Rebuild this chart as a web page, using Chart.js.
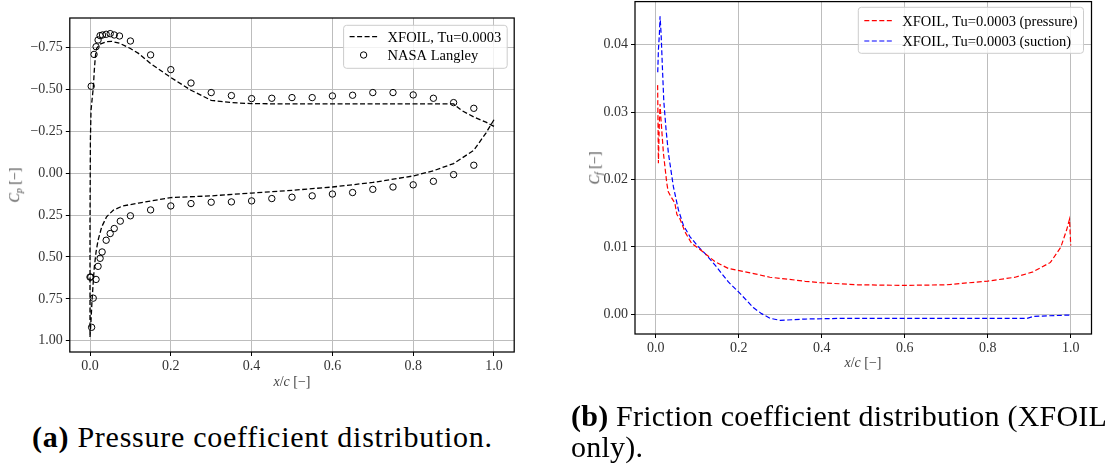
<!DOCTYPE html>
<html>
<head>
<meta charset="utf-8">
<script src="https://cdn.jsdelivr.net/npm/chart.js@4.4.1/dist/chart.umd.min.js"></script>
<style>
  html, body { margin: 0; padding: 0; background: #fff; }
  body { width: 1109px; height: 473px; position: relative; overflow: hidden; font-family: 'Liberation Serif', 'DejaVu Serif', serif; }
  .box { position: absolute; }
  .lab { position: absolute; font-size: 14px; color: #444; white-space: nowrap; transform: translate(-50%, -50%); line-height: 1; }
  .rot { transform: translate(-50%, -50%) rotate(-90deg); }
  .lab sub { font-size: 70%; vertical-align: -0.3em; font-style: italic; }
  .cap { position: absolute; font-size: 30px; color: #000; white-space: nowrap; line-height: 31px; }
</style>
</head>
<body>
<div class="box" style="left:0;top:0;width:530px;height:400px;"><canvas id="cp"></canvas></div>
<div class="box" style="left:560px;top:0;width:549px;height:400px;"><canvas id="cf"></canvas></div>

<div class="lab rot" style="left:16px;top:185px;"><i>C</i><sub>p</sub> [−]</div>
<div class="lab" style="left:292px;top:382px;"><i>x</i>/<i>c</i> [−]</div>
<div class="lab rot" style="left:596px;top:168px;"><i>C</i><sub>f</sub> [−]</div>
<div class="lab" style="left:863px;top:363px;"><i>x</i>/<i>c</i> [−]</div>

<div class="cap" style="left:32px;top:421px;letter-spacing:0.74px;"><b>(a)</b> Pressure coefficient distribution.</div>
<div class="cap" style="left:571px;top:400px;letter-spacing:0.23px;"><b>(b)</b> Friction coefficient distribution (XFOIL<br>only).</div>

<script>
// ---------- data ----------
const xTicks = [0, 0.2, 0.4, 0.6, 0.8, 1.0];
const cpTicks = [-0.75, -0.5, -0.25, 0, 0.25, 0.5, 0.75, 1.0];
const cfTicks = [0, 0.01, 0.02, 0.03, 0.04];

const cpLabel = 'XFOIL, Tu=0.0003';
const nasaLabel = 'NASA Langley';
const cfPressLabel = 'XFOIL, Tu=0.0003 (pressure)';
const cfSuctLabel = 'XFOIL, Tu=0.0003 (suction)';

// XFOIL Cp: trailing edge (upper) -> leading edge -> trailing edge (lower)
const cpXfoilX = [1.0, 0.98, 0.95, 0.92, 0.9, 0.85, 0.8, 0.7, 0.6, 0.5, 0.4, 0.35, 0.3, 0.25, 0.2, 0.15, 0.12, 0.1, 0.074, 0.054, 0.041, 0.025, 0.0165, 0.0132, 0.0107, 0.0083, 0.005, 0.0025, 0.001, 0.0, 0.0,
  0.0025, 0.005, 0.0083, 0.0107, 0.015, 0.02, 0.029, 0.041, 0.058, 0.08, 0.12, 0.2, 0.3, 0.4, 0.5, 0.6, 0.7, 0.8, 0.85, 0.9, 0.95, 0.98, 1.0];
const cpXfoilY = [-0.28, -0.305, -0.336, -0.375, -0.414, -0.414, -0.414, -0.414, -0.414, -0.414, -0.416, -0.422, -0.436, -0.496, -0.572, -0.655, -0.716, -0.745, -0.776, -0.788, -0.786, -0.772, -0.746, -0.696, -0.616, -0.516, -0.436, -0.376, -0.2, 0.3, 0.98,
  0.88, 0.76, 0.64, 0.56, 0.47, 0.40, 0.32, 0.26, 0.22, 0.196, 0.178, 0.145, 0.135, 0.118, 0.102, 0.082, 0.055, 0.016, -0.015, -0.058, -0.137, -0.24, -0.32];

// NASA Langley experimental points
const nasaX = [0.003, 0.01, 0.015, 0.02, 0.025, 0.031, 0.04, 0.05, 0.06, 0.073, 0.1, 0.15, 0.2, 0.25, 0.3, 0.35, 0.4, 0.45, 0.5, 0.55, 0.6, 0.65, 0.7, 0.75, 0.8, 0.85, 0.9, 0.95,
  0.0, 0.002, 0.004, 0.008, 0.015, 0.02, 0.025, 0.03, 0.04, 0.05, 0.06, 0.075, 0.1, 0.15, 0.2, 0.25, 0.3, 0.35, 0.4, 0.45, 0.5, 0.55, 0.6, 0.65, 0.7, 0.75, 0.8, 0.85, 0.9, 0.95];
const nasaY = [-0.52, -0.71, -0.756, -0.796, -0.822, -0.826, -0.83, -0.834, -0.826, -0.82, -0.79, -0.707, -0.619, -0.539, -0.482, -0.464, -0.446, -0.448, -0.452, -0.452, -0.462, -0.466, -0.482, -0.482, -0.468, -0.448, -0.422, -0.388,
  0.62, 0.62, 0.92, 0.746, 0.634, 0.556, 0.508, 0.47, 0.40, 0.36, 0.33, 0.286, 0.254, 0.219, 0.195, 0.181, 0.173, 0.171, 0.165, 0.151, 0.143, 0.135, 0.124, 0.115, 0.096, 0.082, 0.069, 0.048, 0.008, -0.048];

// Friction coefficient, pressure side
const cfPressX = [0.0045, 0.0055, 0.0064, 0.0085, 0.0104, 0.0125, 0.0185, 0.0265, 0.030, 0.036, 0.046, 0.051, 0.058, 0.0707, 0.0867, 0.103, 0.119, 0.143, 0.175, 0.207, 0.239, 0.275, 0.32, 0.36, 0.4, 0.487, 0.6, 0.7, 0.8, 0.866, 0.909, 0.951, 0.976, 0.99, 0.997, 1.0];
const cfPressY = [0.034, 0.028, 0.0224, 0.028, 0.0312, 0.029, 0.0239, 0.0195, 0.0182, 0.0175, 0.0165, 0.0148, 0.0142, 0.0122, 0.0105, 0.0098, 0.009, 0.0078, 0.0068, 0.0064, 0.006, 0.0055, 0.0052, 0.0049, 0.00468, 0.00438, 0.00429, 0.00438, 0.00493, 0.0055, 0.0063, 0.0077, 0.00995, 0.0125, 0.0141, 0.0102];

// Friction coefficient, suction side
const cfSuctX = [0.0048, 0.0064, 0.0088, 0.0104, 0.0129, 0.016, 0.0193, 0.025, 0.0305, 0.0426, 0.0546, 0.0667, 0.0827, 0.103, 0.119, 0.143, 0.175, 0.2, 0.235, 0.255, 0.276, 0.3, 0.33, 0.36, 0.45, 0.6, 0.75, 0.895, 0.91, 1.0];
const cfSuctY = [0.0359, 0.0392, 0.0416, 0.0442, 0.0416, 0.0367, 0.0317, 0.0273, 0.0239, 0.0189, 0.0155, 0.0132, 0.0115, 0.0100, 0.0090, 0.0073, 0.0048, 0.0033, 0.0010, 0.0001, -0.0006, -0.0009, -0.0008, -0.0007, -0.0006, -0.0006, -0.0006, -0.0006, -0.0003, -0.0001];

// ---------- helpers ----------
const FONT = "'Liberation Serif', 'DejaVu Serif', serif";
const pts = (xs, ys) => xs.map((x, i) => ({ x: x, y: ys[i] }));
const fmt = (v, d) => (v < 0 ? '\u2212' : '') + Math.abs(v).toFixed(d);

const framePlugin = {
  id: 'frame',
  afterDraw(chart) {
    const { ctx, chartArea: a } = chart;
    ctx.save();
    ctx.strokeStyle = '#000';
    ctx.lineWidth = 1.25;
    ctx.strokeRect(a.left, a.top, a.right - a.left, a.bottom - a.top);
    ctx.restore();
  }
};

const boxLegend = {
  id: 'boxLegend',
  afterDraw(chart, args, o) {
    const { ctx, chartArea: a } = chart;
    const ds = chart.data.datasets;
    ctx.save();
    ctx.font = o.fontSize + 'px ' + FONT;
    const tw = Math.max(...ds.map(d => ctx.measureText(d.label).width));
    const w = o.pad * 2 + o.handle + o.gap + tw;
    const x0 = a.right - o.right - w;
    const y0 = a.top + o.top;
    ctx.beginPath();
    ctx.roundRect(x0, y0, w, o.height, 3);
    ctx.fillStyle = 'rgba(255,255,255,0.8)';
    ctx.fill();
    ctx.strokeStyle = '#cccccc';
    ctx.lineWidth = 1;
    ctx.stroke();
    ds.forEach((d, i) => {
      const y = y0 + o.first + i * o.row;
      const hx = x0 + o.pad;
      if (d.showLine) {
        ctx.beginPath();
        ctx.setLineDash(d.borderDash || []);
        ctx.strokeStyle = d.borderColor;
        ctx.lineWidth = d.borderWidth;
        ctx.moveTo(hx, y);
        ctx.lineTo(hx + o.handle, y);
        ctx.stroke();
        ctx.setLineDash([]);
      } else {
        ctx.beginPath();
        ctx.arc(hx + o.handle / 2, y, d.pointRadius, 0, Math.PI * 2);
        ctx.strokeStyle = d.borderColor;
        ctx.lineWidth = d.borderWidth;
        ctx.stroke();
      }
      ctx.fillStyle = '#000';
      ctx.textBaseline = 'middle';
      ctx.textAlign = 'left';
      ctx.fillText(d.label, hx + o.handle + o.gap, y + 1);
    });
    ctx.restore();
  }
};

function xScale(height) {
  return {
    type: 'linear', min: -0.05, max: 1.05,
    afterBuildTicks: ax => { ax.ticks = xTicks.map(v => ({ value: v })); },
    afterFit: ax => { ax.height = height; ax.paddingLeft = 0; ax.paddingRight = 0; },
    ticks: { callback: v => fmt(v, 1), font: { family: FONT, size: 14 }, color: '#333', padding: 2, maxRotation: 0, autoSkip: false },
    grid: { color: '#bdbdbd', lineWidth: 1, drawTicks: true, tickLength: 4, tickColor: '#000' },
    border: { display: false }
  };
}

function yScale(opts) {
  return Object.assign({
    type: 'linear',
    afterBuildTicks: ax => { ax.ticks = opts.tickVals.map(v => ({ value: v })); },
    afterFit: ax => { ax.width = opts.width; ax.paddingTop = 0; ax.paddingBottom = 0; },
    ticks: { callback: v => fmt(v, 2), font: { family: FONT, size: 14 }, color: '#333', padding: 3, autoSkip: false },
    grid: { color: '#bdbdbd', lineWidth: 1, drawTicks: true, tickLength: 4, tickColor: '#000' },
    border: { display: false }
  }, opts.extra);
}

// ---------- Cp chart ----------
new Chart(document.getElementById('cp'), {
  type: 'scatter',
  data: {
    datasets: [
      { label: cpLabel, data: pts(cpXfoilX, cpXfoilY), showLine: true, borderColor: '#000', borderWidth: 1.3, borderDash: [5, 2.5], pointRadius: 0, fill: false, tension: 0 },
      { label: nasaLabel, data: pts(nasaX, nasaY), showLine: false, borderColor: '#000', backgroundColor: 'rgba(0,0,0,0)', borderWidth: 1, pointRadius: 3.2, pointStyle: 'circle' }
    ]
  },
  options: {
    responsive: true, maintainAspectRatio: false, animation: false,
    layout: { padding: { left: 0, top: 18, right: 15.8, bottom: 0 } },
    plugins: {
      legend: { display: false }, tooltip: { enabled: false },
      boxLegend: { fontSize: 14.5, pad: 6, handle: 28, gap: 10, right: 7, top: 7.3, height: 43, first: 11.4, row: 18.3 }
    },
    scales: {
      x: xScale(48),
      y: yScale({ tickVals: cpTicks, width: 69.8, extra: { reverse: true, min: -0.9274, max: 1.0675 } })
    }
  },
  plugins: [framePlugin, boxLegend]
});

// ---------- Cf chart ----------
new Chart(document.getElementById('cf'), {
  type: 'scatter',
  data: {
    datasets: [
      { label: cfPressLabel, data: pts(cfPressX, cfPressY), showLine: true, borderColor: '#ff0000', borderWidth: 1.2, borderDash: [5, 2.5], pointRadius: 0, fill: false, tension: 0 },
      { label: cfSuctLabel, data: pts(cfSuctX, cfSuctY), showLine: true, borderColor: '#0000ff', borderWidth: 1.2, borderDash: [5, 2.5], pointRadius: 0, fill: false, tension: 0 }
    ]
  },
  options: {
    responsive: true, maintainAspectRatio: false, animation: false,
    layout: { padding: { left: 0, top: 1.6, right: 17.5, bottom: 0 } },
    plugins: {
      legend: { display: false }, tooltip: { enabled: false },
      boxLegend: { fontSize: 14.5, pad: 6, handle: 28, gap: 10, right: 8, top: 5.7, height: 46, first: 13.4, row: 20.3 }
    },
    scales: {
      x: xScale(66),
      y: yScale({ tickVals: cfTicks, width: 75, extra: { min: -0.00292, max: 0.04639 } })
    }
  },
  plugins: [framePlugin, boxLegend]
});
</script>
</body>
</html>
